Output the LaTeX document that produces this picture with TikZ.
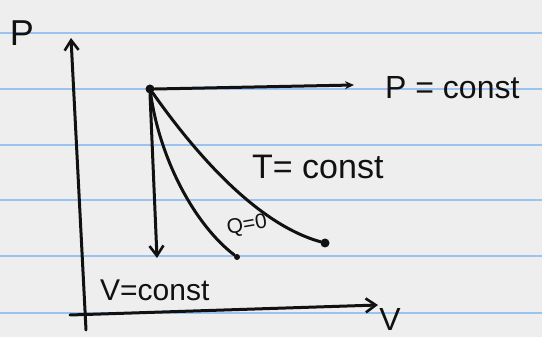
\documentclass[tikz,border=0pt]{standalone}
\usepackage{fontspec}
\setmainfont{Liberation Sans}
\usetikzlibrary{arrows.meta}
\definecolor{paper}{HTML}{EEEEEE}
\definecolor{rule}{HTML}{9CC2F0}
\definecolor{ink}{HTML}{111111}
\begin{document}
\begin{tikzpicture}[x=1pt,y=-1pt,
  stroke/.style={draw=ink,line width=3pt,line cap=round,line join=round},
  dotnode/.style={circle,fill=ink,inner sep=0pt,minimum size=9pt},
  lbl/.style={text=ink,inner sep=0pt,font=\fontsize{32}{36}\selectfont},
  ruleline/.style={draw=rule,line width=2.2pt},
  solidtip/.style={-{Stealth[length=9pt,width=8pt]}},
  opentip/.style={-{Straight Barb[length=10pt,width=14pt,line width=2.6pt]}}]
\useasboundingbox (0,0) rectangle (542,337);
\fill[paper] (0,0) rectangle (542,337);
% ruled paper lines
\foreach \yy in {33,89,145,200,256,313}
  \draw[ruleline] (0,\yy) -- (542,\yy);
% axes
\coordinate (vb) at (86,330);
\coordinate (vt) at (71,38);
\coordinate (hl) at (70,315);
\coordinate (hr) at (378,305);
\draw[stroke,opentip] (vb) -- (vt);
\draw[stroke,opentip] (hl) -- (hr);
\node[lbl,font=\fontsize{36}{40}\selectfont] (plabel) at (22,33) {P};
\node[lbl] (vlabel) at (390,319) {V};
% states
\node[dotnode] (s) at (150,89) {};
\node[dotnode,minimum size=6pt] (ea) at (237,257) {};
\node[dotnode] (ei) at (325,243) {};
\coordinate (ph) at (354,85);
\coordinate (vv) at (157,258);
% processes
\draw[stroke,solidtip] (s.east) -- (ph);
\draw[stroke,opentip] (s.south) -- (vv);
\draw[stroke] (s) .. controls (160,160) and (195,225) .. (ea);
\draw[stroke] (s) .. controls (200,160) and (260,225) .. (ei);
% labels
\node[lbl,anchor=west] (pc) at (385,88) {P = const};
\node[lbl,anchor=west,font=\fontsize{34}{38}\selectfont] (tc) at (252,167) {T= const};
\node[lbl,anchor=west,font=\fontsize{30}{34}\selectfont] (vc) at (100,290) {V=const};
\node[lbl,font=\fontsize{21}{24}\selectfont,rotate=10] (qc) at (247,226) {Q=0};
\end{tikzpicture}
\end{document}
